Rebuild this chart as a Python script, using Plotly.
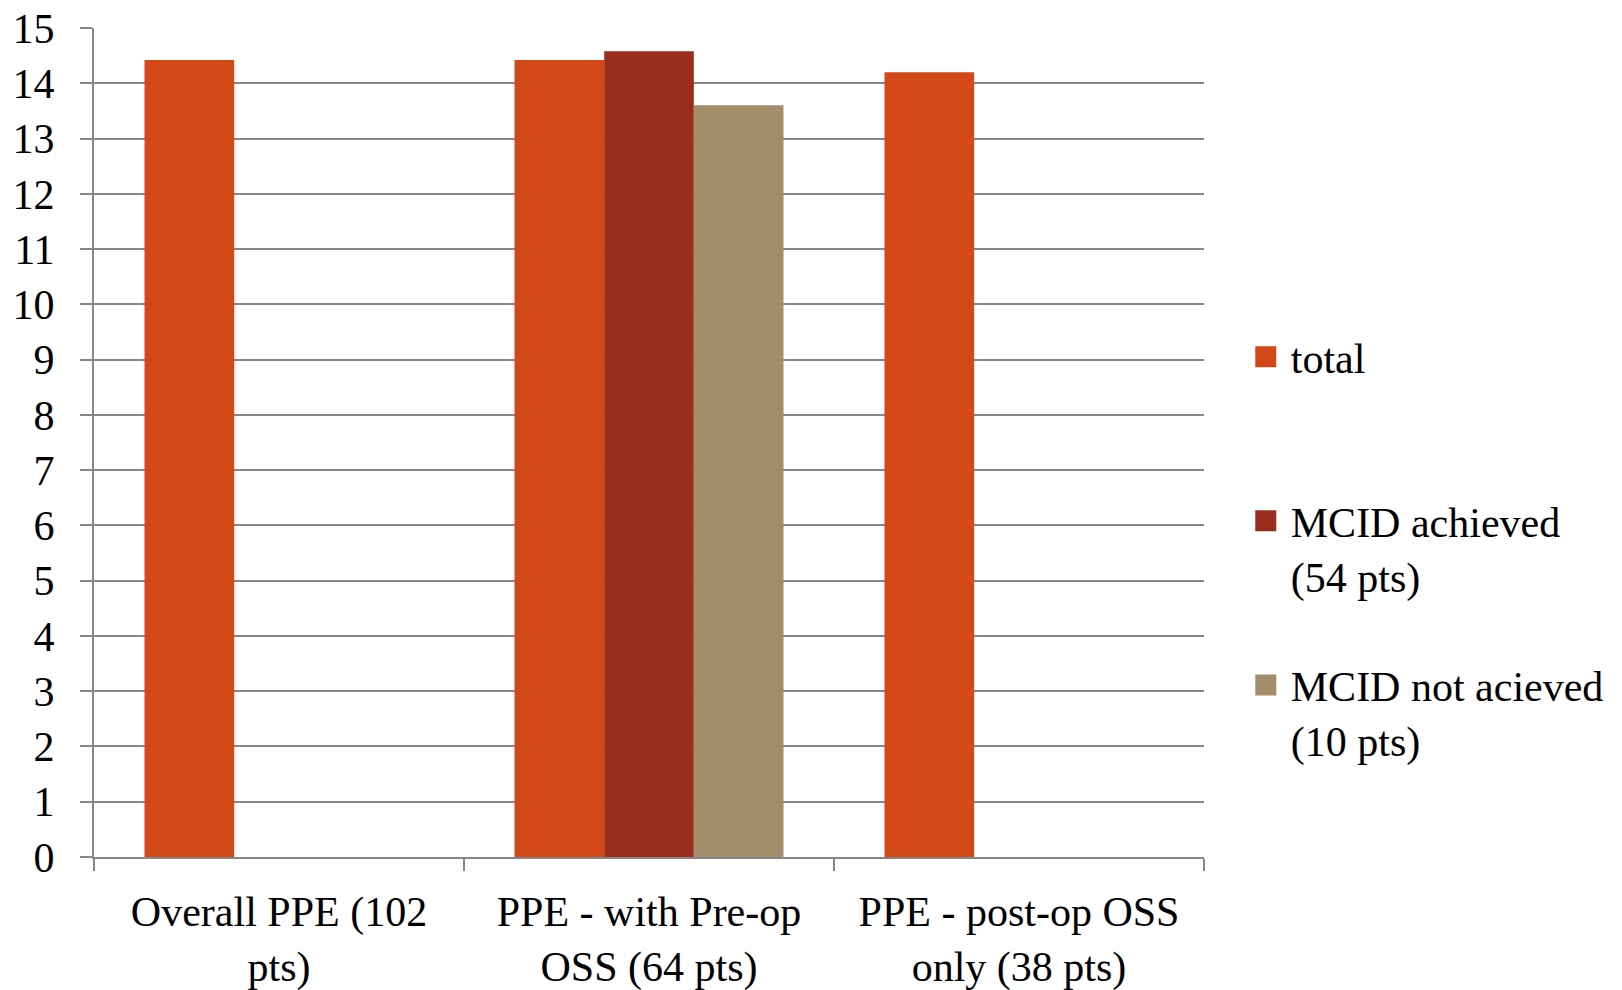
import plotly.graph_objects as go

categories = ["Overall PPE (102<br>pts)", "PPE - with Pre-op<br>OSS (64 pts)", "PPE - post-op OSS<br>only (38 pts)"]
total = [14.42, 14.42, 14.20]
mcid_achieved = [None, 14.58, None]
mcid_not = [None, 13.60, None]
series_names = ["total", "MCID achieved<br>(54 pts)", "MCID not acieved<br>(10 pts)"]
colors = ["#D34817", "#9B2D1F", "#A28E6A"]

FONT = "Liberation Serif"
fig = go.Figure()
for name, vals, col in zip(series_names, [total, mcid_achieved, mcid_not], colors):
    fig.add_trace(go.Bar(x=categories, y=vals, name=name, marker=dict(color=col, line=dict(width=0)),
                         showlegend=False))
for i, (name, col) in enumerate(zip(series_names, colors)):
    label = name if "<br>" in name else name + "<br> "
    fig.add_trace(go.Scatter(x=[None], y=[None], mode="markers", name=label, legendgroup=f"g{i}",
                             marker=dict(symbol="square", size=16, color=col,
                                         line=dict(color=col, width=5))))

fig.update_layout(
    width=1614, height=982,
    paper_bgcolor="white", plot_bgcolor="white",
    margin=dict(l=86, r=418, t=20, b=133, autoexpand=False),
    barmode="group", bargap=0.273, bargroupgap=0,
    font=dict(family=FONT, size=42, color="black"),
    legend=dict(xref="container", yref="container", x=0.7638, y=0.6794, xanchor="left", yanchor="top",
                tracegroupgap=52, valign="top", itemwidth=40, font=dict(size=42),
                bgcolor="rgba(0,0,0,0)"),
)
fig.update_yaxes(range=[0, 15], dtick=1, showgrid=True, gridcolor="#868686", gridwidth=2,
                 showline=True, linecolor="#868686", linewidth=2, ticks="outside", ticklen=12,
                 tickcolor="#868686", tickwidth=2, ticklabelstandoff=17, zeroline=False,
                 tickfont=dict(size=42), automargin=False, ticklabeloverflow="allow")
fig.update_xaxes(showline=True, linecolor="#868686", linewidth=2, ticks="outside", ticklen=12,
                 tickcolor="#868686", tickwidth=2, tickson="boundaries", showgrid=False,
                 ticklabelstandoff=17, tickfont=dict(size=42), automargin=False,
                 ticklabeloverflow="allow")

fig.write_html("out.html")
